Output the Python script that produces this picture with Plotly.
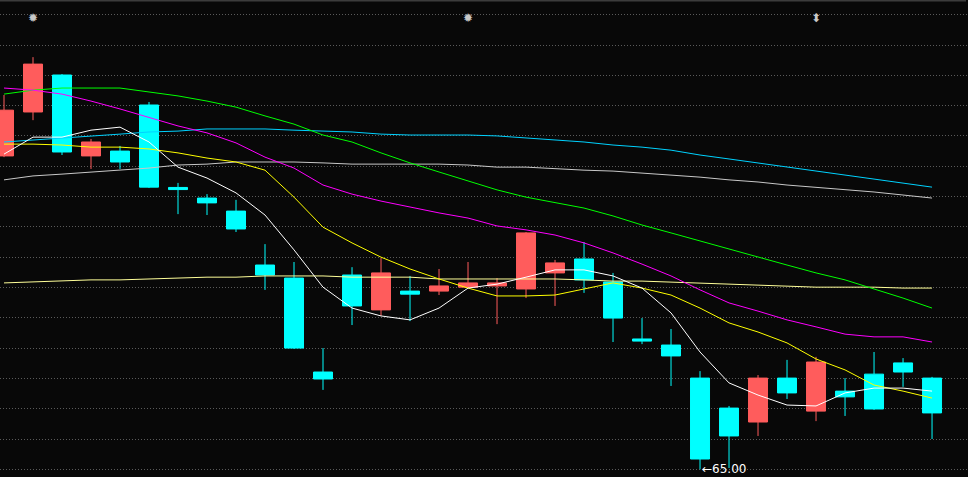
import plotly.graph_objects as go

# ── 데이터 ────────────────────────────────────────────────────────────
idx = list(range(33))

open_ = [75.34, 76.79, 78.01, 75.34, 75.50, 77.02, 74.30, 73.95, 73.52, 71.74, 71.31,
         68.21, 71.41, 70.26, 70.88, 70.88, 71.01, 71.05, 70.95, 71.48, 71.94, 71.18,
         69.30, 69.10, 68.01, 67.02, 66.56, 68.01, 66.92, 67.58, 68.14, 68.51, 68.01]
high = [77.35, 78.60, 78.04, 75.90, 75.67, 77.12, 74.45, 74.08, 73.89, 72.43, 71.84,
        69.00, 71.67, 71.97, 71.38, 71.61, 71.84, 71.31, 72.83, 71.91, 72.50, 71.48,
        69.99, 69.63, 68.24, 67.09, 68.11, 68.61, 68.71, 68.01, 68.87, 68.67, 68.05]
low = [75.30, 76.52, 75.37, 74.91, 74.91, 74.28, 73.42, 73.39, 72.83, 70.92, 68.97,
       67.62, 69.76, 70.06, 69.89, 70.75, 70.98, 69.79, 70.65, 70.39, 70.82, 69.20,
       69.13, 67.75, 65.00, 65.04, 66.10, 67.32, 66.59, 66.76, 66.96, 67.72, 66.00]
close = [76.85, 78.37, 75.47, 75.80, 75.14, 74.31, 74.23, 73.79, 72.93, 71.41, 69.00,
         67.98, 70.39, 71.48, 70.78, 71.05, 71.15, 71.15, 72.80, 71.81, 71.25, 69.99,
         69.23, 68.74, 65.34, 66.10, 68.01, 67.52, 68.54, 67.39, 66.99, 68.21, 66.86]

ma5 = [75.40, 75.96, 75.96, 76.19, 76.29, 75.80, 74.97, 74.61, 74.12, 73.39, 72.24,
       71.01, 70.32, 70.06, 69.93, 70.32, 70.98, 71.11, 71.34, 71.58, 71.58, 71.38,
       70.98, 70.16, 68.87, 67.85, 67.45, 67.12, 67.09, 67.52, 67.68, 67.68, 67.58]
ma10 = [75.73, 75.73, 75.70, 75.63, 75.63, 75.57, 75.44, 75.27, 75.14, 74.87, 73.98,
        72.99, 72.47, 72.00, 71.61, 71.28, 70.98, 70.72, 70.72, 70.75, 70.95, 71.15,
        70.98, 70.75, 70.32, 69.83, 69.53, 69.17, 68.64, 68.28, 67.78, 67.58, 67.35]
ma20 = [77.58, 77.51, 77.38, 77.15, 76.89, 76.62, 76.33, 76.10, 75.77, 75.30, 74.94,
        74.38, 74.08, 73.85, 73.65, 73.46, 73.29, 73.03, 72.90, 72.73, 72.47, 72.14,
        71.77, 71.38, 70.92, 70.49, 70.22, 69.93, 69.70, 69.46, 69.37, 69.37, 69.20]
ma30 = [77.38, 77.51, 77.58, 77.58, 77.58, 77.45, 77.32, 77.15, 76.95, 76.66, 76.39,
        76.03, 75.80, 75.44, 75.11, 74.81, 74.51, 74.22, 73.98, 73.79, 73.62, 73.36,
        73.06, 72.80, 72.53, 72.27, 72.00, 71.74, 71.48, 71.25, 70.95, 70.65, 70.32]
ma60 = [75.80, 75.86, 75.93, 76.00, 76.06, 76.13, 76.16, 76.23, 76.23, 76.23, 76.19,
        76.16, 76.13, 76.06, 76.03, 76.03, 76.03, 76.00, 75.93, 75.86, 75.80, 75.70,
        75.63, 75.53, 75.37, 75.24, 75.11, 74.97, 74.84, 74.71, 74.58, 74.45, 74.31]
ma120 = [74.55, 74.68, 74.74, 74.81, 74.87, 74.94, 75.04, 75.07, 75.14, 75.14, 75.14,
         75.11, 75.07, 75.07, 75.07, 75.07, 75.04, 74.97, 74.97, 74.91, 74.87, 74.84,
         74.78, 74.71, 74.64, 74.55, 74.48, 74.38, 74.31, 74.22, 74.15, 74.05, 73.95]
ma250 = [71.15, 71.18, 71.21, 71.25, 71.25, 71.28, 71.31, 71.34, 71.34, 71.38, 71.38,
         71.38, 71.34, 71.34, 71.34, 71.28, 71.28, 71.28, 71.28, 71.28, 71.25, 71.21,
         71.21, 71.18, 71.15, 71.11, 71.08, 71.05, 71.01, 71.01, 71.01, 70.98, 70.98]

low_label = "←65.00"
low_idx = 24

BG = "#080808"
UP = "#ff5c5c"
DOWN = "#00ffff"

fig = go.Figure()
fig.add_trace(go.Candlestick(
    x=idx, open=open_, high=high, low=low, close=close,
    increasing=dict(line=dict(color=UP, width=1), fillcolor=UP),
    decreasing=dict(line=dict(color=DOWN, width=1), fillcolor=DOWN),
    whiskerwidth=0, hoverinfo="skip", showlegend=False,
))

# ── 이동평균선 ────────────────────────────────────────────────────────────────
for vals, col in [(ma250, "#ffff99"), (ma120, "#c8c8c8"), (ma60, "#00d2ff"),
                  (ma30, "#00ff00"), (ma20, "#ff00ff"), (ma10, "#ffff00"),
                  (ma5, "#ffffff")]:
    fig.add_trace(go.Scatter(
        x=idx, y=vals, mode="lines", line=dict(color=col, width=1),
        showlegend=False, hoverinfo="skip",
    ))

fig.add_annotation(x=low_idx, y=low[low_idx], text=low_label, showarrow=False,
                   xanchor="left", yanchor="middle", xshift=0,
                   font=dict(color="#ffffff", size=12, family="DejaVu Sans"))

for xi, sym in [(1, "✹"), (16, "✹"), (28, "⬍")]:
    fig.add_annotation(x=xi, y=0.982, yref="paper", text=sym, showarrow=False,
                       font=dict(color="#c8c8c8", size=12, family="DejaVu Sans"))

fig.add_shape(type="line", xref="paper", yref="paper", x0=0, x1=0.998, y0=1, y1=1,
              line=dict(color="#3c3c3c", width=3))

fig.update_layout(
    width=968, height=477, autosize=False,
    margin=dict(l=0, r=0, t=0, b=0),
    paper_bgcolor=BG, plot_bgcolor=BG,
    boxgap=0.345, boxgroupgap=0,
    xaxis=dict(range=[-0.138, 33.24], showgrid=False, zeroline=False,
               showticklabels=False, rangeslider=dict(visible=False)),
    yaxis=dict(range=[64.746, 80.485], tick0=66, dtick=1, showgrid=True,
               gridcolor="#5a5a5a", griddash="1px,2px", gridwidth=1,
               zeroline=False, showticklabels=False),
)

fig.write_html("out.html", config={"displayModeBar": False},
               post_script="document.body.style.margin='0';"
                           "document.body.style.background='#080808';")
